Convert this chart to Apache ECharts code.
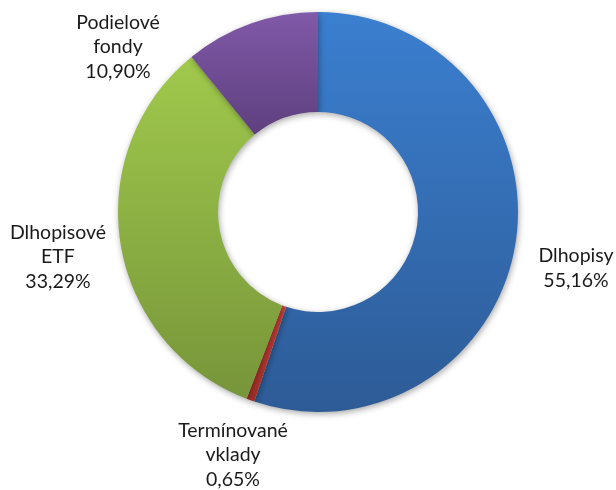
<!DOCTYPE html>
<html>
<head>
<meta charset="utf-8">
<script src="https://cdn.jsdelivr.net/npm/echarts@6/dist/echarts.min.js"></script>
<style>html,body{margin:0;padding:0;background:#fff;}#c{width:616px;height:490px;}</style>
</head>
<body>
<div id="c"></div>
<script>
var categories = ['Dlhopisy', 'Termínované\nvklady', 'Dlhopisové\nETF', 'Podielové\nfondy'];
var values = [55.16, 0.65, 33.29, 10.90];

var gradients = [
  ['#3b7fd0', '#2d5b96'],
  ['#c8403a', '#a02e28'],
  ['#a0c94c', '#77953a'],
  ['#8059a8', '#5e3f7e']
];
var labelPos = [[576, 268], [233, 455], [58, 257], [118, 47]];

var chart = echarts.init(document.getElementById('c'), null, {renderer: 'canvas'});
chart.setOption({
  animation: false,
  series: [{
    type: 'pie',
    center: [318, 212],
    radius: [100, 200],
    startAngle: 90,
    clockwise: true,
    avoidLabelOverlap: false,
    itemStyle: {
      shadowBlur: 6,
      shadowColor: 'rgba(0,0,0,0.35)',
      shadowOffsetX: 1,
      shadowOffsetY: 2
    },
    label: {
      show: true,
      position: 'outside',
      fontFamily: 'Lato',
      fontSize: 19.5,
      lineHeight: 24.5,
      color: '#1a1a1a',
      align: 'center',
      formatter: function (p) {
        return p.name + '\n' + p.value.toFixed(2).replace('.', ',') + '%';
      }
    },
    labelLine: {show: false},
    labelLayout: function (p) {
      var pos = labelPos[p.dataIndex];
      return {x: pos[0], y: pos[1], align: 'center', verticalAlign: 'middle'};
    },
    data: categories.map(function (c, i) {
      return {
        name: c,
        value: values[i],
        itemStyle: {
          color: new echarts.graphic.LinearGradient(0, 0, 0, 1, [
            {offset: 0, color: gradients[i][0]},
            {offset: 1, color: gradients[i][1]}
          ])
        }
      };
    })
  }]
});
</script>
</body>
</html>
